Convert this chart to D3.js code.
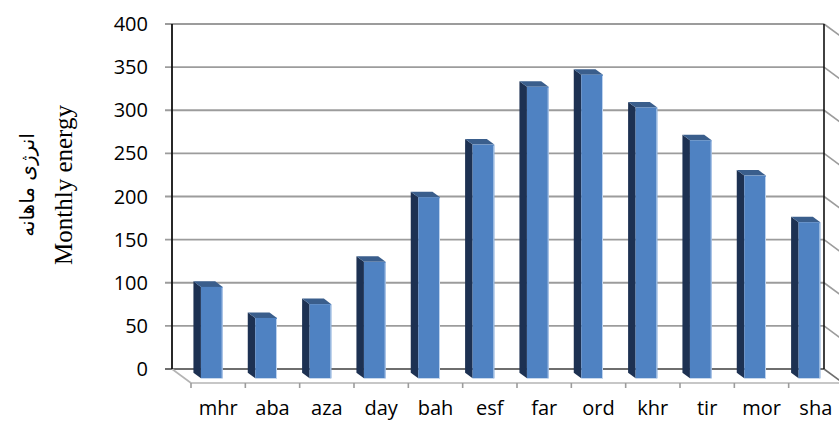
<!DOCTYPE html>
<html>
<head>
<meta charset="utf-8">
<script src="https://cdn.jsdelivr.net/npm/d3@7"></script>
<style>
  html, body { margin: 0; padding: 0; background: #fff; }
  svg { display: block; }
</style>
</head>
<body>
<svg id="chart" width="839" height="421"></svg>
<script>
// Monthly energy by month (3-D column chart)
const categories = ["mhr", "aba", "aza", "day", "bah", "esf", "far", "ord", "khr", "tir", "mor", "sha"];
const energy = [106, 70, 86, 135, 210, 271, 338, 352, 314, 276, 235, 181];
const yTicks = [0, 50, 100, 150, 200, 250, 300, 350, 400];
const yTitle = "Monthly energy";
const yTitleFa = "انرژی ماهانه";

const svg = d3.select("#chart");

// Scales on the back wall plane
const x = d3.scaleBand().domain(categories).range([172, 824]).paddingInner(0).paddingOuter(0);
const y = d3.scaleLinear().domain([0, 400]).range([369, 24]);

// Oblique depth: z = 0 is the back wall, z = 1 the front edge of the floor
const DX = 19, DY = 14;
const proj = (px, py, z) => [px + DX * z, py + DY * z];
const pts = arr => arr.map(p => p.join(",")).join(" ");

const bw = x.bandwidth();
const barFrac = 0.4;             // gap width 150%
const zBack = 0.27, zFront = 0.665;

const wall = svg.append("g");

// Floor
const [x0w, x1w] = x.range();
wall.append("polygon")
  .attr("points", pts([proj(x0w, y(0), 0), proj(x1w, y(0), 0), proj(x1w, y(0), 1), proj(x0w, y(0), 1)]))
  .attr("fill", "#fff");

// Gridlines on back wall, with tick stubs to the left
wall.selectAll("line.grid").data(yTicks).join("line")
  .attr("class", "grid")
  .attr("x1", x0w - 7).attr("x2", x1w)
  .attr("y1", d => y(d)).attr("y2", d => y(d))
  .attr("stroke", d => d === 0 ? "#6e6e6e" : "#9c9c9c")
  .attr("stroke-width", 1.8);

// Gridlines continued on the right side wall
wall.selectAll("line.sgrid").data(yTicks).join("line")
  .attr("class", "sgrid")
  .attr("x1", x1w).attr("y1", d => y(d))
  .attr("x2", d => proj(x1w, y(d), 1)[0]).attr("y2", d => proj(x1w, y(d), 1)[1])
  .attr("stroke", d => d === 0 ? "#6e6e6e" : "#9c9c9c")
  .attr("stroke-width", 1.6);

// Floor edges
const fl = proj(x0w, y(0), 1), fr = proj(x1w, y(0), 1);
wall.append("line")
  .attr("x1", x0w).attr("y1", y(0)).attr("x2", fl[0]).attr("y2", fl[1])
  .attr("stroke", "#b4b4b4").attr("stroke-width", 1.6);
wall.append("line")
  .attr("x1", fl[0]).attr("y1", fl[1]).attr("x2", fr[0]).attr("y2", fr[1])
  .attr("stroke", "#b4b4b4").attr("stroke-width", 1.6);

// Category tick marks along the front edge
wall.selectAll("line.xt").data(categories).join("line")
  .attr("class", "xt")
  .attr("x1", d => proj(x(d), y(0), 1)[0]).attr("x2", d => proj(x(d), y(0), 1)[0])
  .attr("y1", fl[1]).attr("y2", fl[1] + 5)
  .attr("stroke", "#9c9c9c").attr("stroke-width", 1.6);

// Vertical wall edges
wall.append("line")
  .attr("x1", x0w).attr("x2", x0w).attr("y1", y(400)).attr("y2", y(0))
  .attr("stroke", "#111").attr("stroke-width", 1.8);
wall.append("line")
  .attr("x1", x1w).attr("x2", x1w).attr("y1", y(400)).attr("y2", y(0))
  .attr("stroke", "#111").attr("stroke-width", 1.6);

// Columns
const data = categories.map((c, i) => ({ c, v: energy[i] }));
const bars = svg.append("g").selectAll("g.bar").data(data).join("g").attr("class", "bar");

bars.each(function (d) {
  const g = d3.select(this);
  const l = x(d.c) + bw * (1 - barFrac) / 2;
  const r = l + bw * barFrac;
  const b = y(0), t = y(d.v);
  // left side
  g.append("polygon")
    .attr("points", pts([proj(l, t, zBack), proj(l, t, zFront), proj(l, b, zFront), proj(l, b, zBack)]))
    .attr("fill", "#1d3152");
  // top
  g.append("polygon")
    .attr("points", pts([proj(l, t, zBack), proj(r, t, zBack), proj(r, t, zFront), proj(l, t, zFront)]))
    .attr("fill", "#3a5e8c");
  // front
  const fa = proj(l, t, zFront), fb = proj(r, b, zFront);
  g.append("rect")
    .attr("x", fa[0]).attr("y", fa[1])
    .attr("width", fb[0] - fa[0]).attr("height", fb[1] - fa[1])
    .attr("fill", "#4f82c2");
  g.append("line")
    .attr("x1", fb[0] - 0.5).attr("x2", fb[0] - 0.5).attr("y1", fa[1] + 1).attr("y2", fb[1])
    .attr("stroke", "#bcd2ee").attr("stroke-width", 1);
});

// Y tick labels
svg.append("g").selectAll("text").data(yTicks).join("text")
  .attr("x", 148).attr("y", d => y(d) + 7)
  .attr("text-anchor", "end")
  .attr("font-family", "'Open Sans', sans-serif")
  .attr("font-size", 20)
  .attr("fill", "#000")
  .text(d => d);

// Category labels
svg.append("g").selectAll("text").data(categories).join("text")
  .attr("x", d => proj(x(d) + bw / 2, y(0), 1)[0])
  .attr("y", 415)
  .attr("text-anchor", "middle")
  .attr("font-family", "'Open Sans', sans-serif")
  .attr("font-size", 20)
  .attr("fill", "#000")
  .text(d => d);

// Axis titles
svg.append("text")
  .attr("transform", "translate(72,185) rotate(-90)")
  .attr("text-anchor", "middle")
  .attr("font-family", "'Liberation Serif', 'Times New Roman', serif")
  .attr("font-size", 25)
  .attr("fill", "#000")
  .text(yTitle);

svg.append("text")
  .attr("transform", "translate(34,185) rotate(-90)")
  .attr("text-anchor", "middle")
  .attr("font-family", "'DejaVu Sans', sans-serif")
  .attr("font-size", 20)
  .attr("fill", "#000")
  .text(yTitleFa);
</script>
</body>
</html>
